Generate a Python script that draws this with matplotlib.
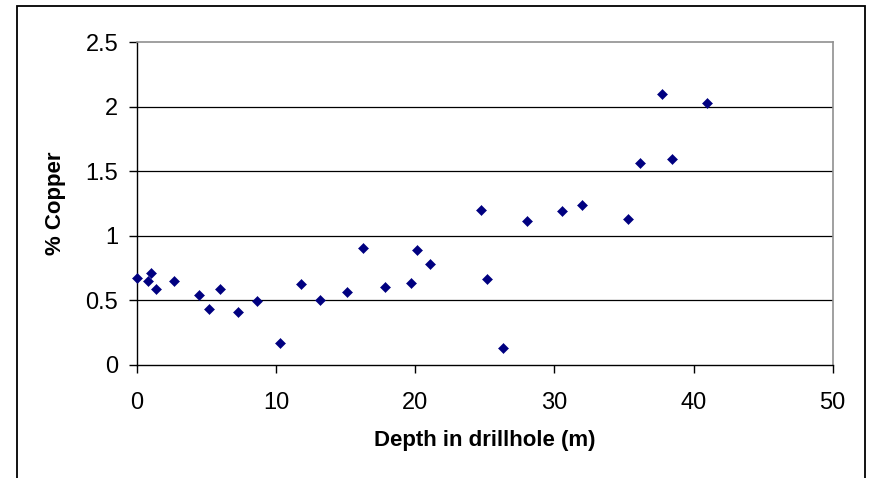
# scatter of copper grade vs depth in drillhole

import numpy as np
import matplotlib
matplotlib.use('Agg')
import matplotlib.pyplot as plt
from matplotlib.patches import Rectangle

plt.rcParams['font.family'] = ['Liberation Sans', 'DejaVu Sans']

# data
depth = [0.0, 0.79, 1.0, 1.34, 2.66, 4.45, 5.14, 6.0, 7.25, 8.66,
         10.26, 11.79, 13.13, 15.12, 16.24, 17.8, 19.69, 20.14, 21.03,
         24.70, 25.18, 26.28, 28.05, 30.52, 31.96, 35.29, 36.18, 37.76,
         38.43, 40.97]
copper = [0.675, 0.649, 0.711, 0.589, 0.649, 0.540, 0.432, 0.589, 0.406, 0.496,
          0.168, 0.626, 0.504, 0.564, 0.902, 0.602, 0.636, 0.889, 0.783,
          1.202, 0.662, 0.132, 1.117, 1.189, 1.238, 1.130, 1.562, 2.102,
          1.598, 2.032]
xticks = [0, 10, 20, 30, 40, 50]
yticks = [0, 0.5, 1, 1.5, 2, 2.5]
ytick_labels = ['0', '0.5', '1', '1.5', '2', '2.5']

W, H = 869, 478
fig = plt.figure(figsize=(W / 100, H / 100), dpi=100)
ax = fig.add_axes([137 / W, 1 - 364.7 / H, (832.7 - 137) / W, (364.7 - 42.3) / H])

# outer chart border (bottom edge is cut off in the original)
fig.patches.append(Rectangle((17 / W, -0.05), (865 - 17) / W, (478 - 6) / H + 0.05,
                             transform=fig.transFigure, fill=False,
                             edgecolor='black', linewidth=1.3))

ax.plot(depth, copper, 'D', color='#000080', markersize=4.8,
        markeredgewidth=0.4, zorder=3, clip_on=False)

ax.set_xlim(0, 50)
ax.set_ylim(0, 2.5)
ax.set_xticks(xticks)
ax.set_yticks(yticks)
ax.set_yticklabels(ytick_labels)

for y in yticks[1:-1]:
    ax.axhline(y, color='black', linewidth=0.9, zorder=1)

ax.spines['top'].set_color('#909090')
ax.spines['right'].set_color('#909090')
ax.spines['top'].set_linewidth(1.2)
ax.spines['right'].set_linewidth(1.2)
ax.spines['left'].set_linewidth(1.0)
ax.spines['bottom'].set_linewidth(1.0)

ax.tick_params(axis='both', direction='out', length=5.5, width=1.0,
               labelsize=17, colors='black')
ax.tick_params(axis='x', pad=14)
ax.tick_params(axis='y', pad=8)

ax.set_xlabel('Depth in drillhole (m)', fontsize=16, fontweight='bold', labelpad=12)
ax.set_ylabel('% Copper', fontsize=16, fontweight='bold', labelpad=14)

fig.savefig('out.png', dpi=100)
